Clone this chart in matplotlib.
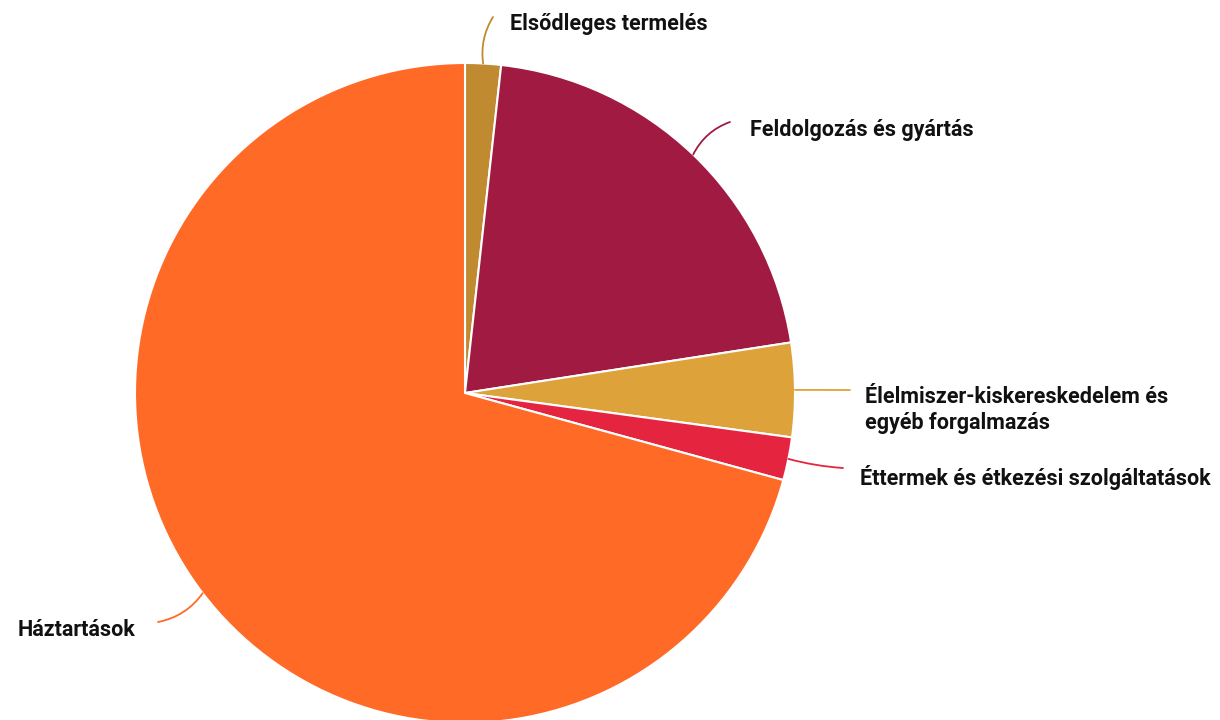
import matplotlib.pyplot as plt
import numpy as np

plt.rcParams['font.family'] = ['Roboto', 'DejaVu Sans']

labels = ['Elsődleges termelés', 'Feldolgozás és gyártás',
          'Élelmiszer-kiskereskedelem és\negyéb forgalmazás',
          'Éttermek és étkezési szolgáltatások', 'Háztartások']
values = [1.75, 20.8, 4.6, 2.1, 70.75]
colors = ['#BF8A30', '#A01A42', '#DDA33A', '#E5253F', '#FF6A27']

# label layout (pixel coords, y up)
line_ends = [(493, 703), (730, 598), (850, 330), (843, 252), (158, 98)]
text_pos = [(510, 696), (750, 590), (865, 310), (860, 242), (18, 90)]
rads = [0.18, 0.2, 0.0, -0.05, 0.2]

fig = plt.figure(figsize=(12.2, 7.2), dpi=100)
ax = fig.add_axes([0, 0, 1, 1])

cx, cy, r = 465, 327, 330
wedges, _ = ax.pie(values, colors=colors, startangle=90, counterclock=False,
                   center=(cx, cy), radius=r, frame=True,
                   wedgeprops=dict(edgecolor='white', linewidth=1.5))
ax.set_xlim(0, 1220)
ax.set_ylim(0, 720)
ax.set_aspect('equal')
ax.axis('off')

for w, c, le, tp, rad, lab in zip(wedges, colors, line_ends, text_pos, rads, labels):
    mid = np.deg2rad((w.theta1 + w.theta2) / 2)
    ex, ey = cx + r * np.cos(mid), cy + r * np.sin(mid)
    ax.annotate('', xy=(ex, ey), xytext=le,
                arrowprops=dict(arrowstyle='-', color=c, lw=1.3,
                                connectionstyle='arc3,rad=%s' % rad,
                                shrinkA=0, shrinkB=0))
    ax.text(tp[0], tp[1], lab, ha='left', va='center', fontsize=15.5,
            fontweight='bold', color='#111111', linespacing=1.25)

fig.savefig('out.png', dpi=100)
